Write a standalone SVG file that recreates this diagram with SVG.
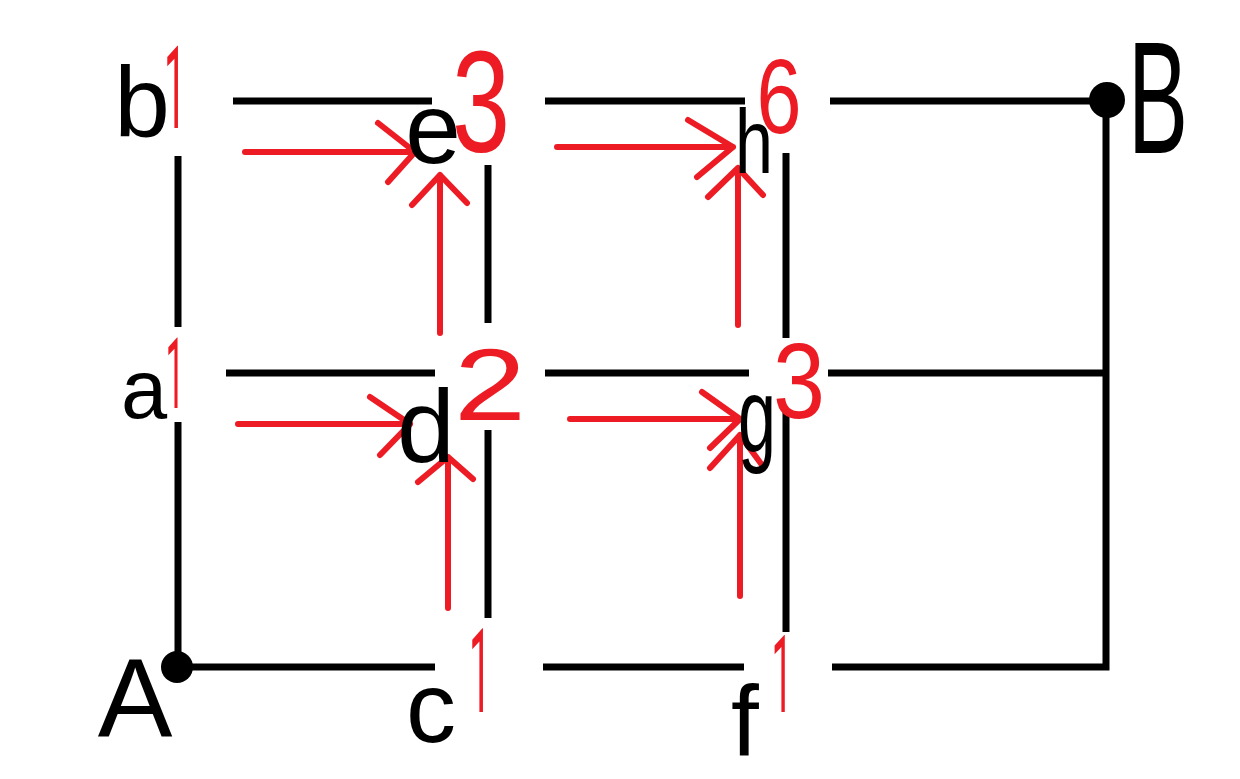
<svg xmlns="http://www.w3.org/2000/svg" width="1240" height="779" viewBox="0 0 1240 779">
  <style>
    .bk { stroke: #000000; stroke-width: 7; fill: none; stroke-linecap: butt; stroke-linejoin: miter; }
    .rd { stroke: #ED1C24; stroke-width: 6; fill: none; stroke-linecap: round; stroke-linejoin: round; }
    .dot { fill: #000000; }
    .lbl { font-family: "Liberation Sans", Arial, sans-serif; fill: #000000; text-anchor: middle; }
    .num { font-family: "Liberation Sans", Arial, sans-serif; fill: #ED1C24; text-anchor: middle; }
    .one { font-family: Roboto, "Open Sans", sans-serif; fill: #ED1C24; text-anchor: middle; }
  </style>
  <rect width="1240" height="779" fill="#ffffff"/>

  <g id="connectors">
    <g id="grid">
      <path class="bk" d="M233 101 H432 M545 101 H745 M830 101 H1106"/>
      <path class="bk" d="M226 373 H435 M545 373 H749 M828 373 H1106"/>
      <path class="bk" d="M177 667 H435 M543 667 H744"/>
      <path class="bk" d="M832 667 H1106 V101"/>
      <path class="bk" d="M178 156 V327 M178 422 V667"/>
      <path class="bk" d="M488 165 V323 M488 430 V618"/>
      <path class="bk" d="M786 153 V338 M786 410 V632"/>
    </g>
    <g id="arrows">
      <path class="rd" d="M245 152 H415 M378 123 L415 152 L388 182"/>
      <path class="rd" d="M440 333 V175 M412 205 L440 175 L467 203"/>
      <path class="rd" d="M557 147 H733 M688 120 L733 147 L697 177"/>
      <path class="rd" d="M738 325 V168 M708 197 L738 168 L763 195"/>
      <path class="rd" d="M238 424 H410 M370 397 L410 424 L380 455"/>
      <path class="rd" d="M448 608 V457 M418 482 L448 457 L473 479"/>
      <path class="rd" d="M570 419 H740 M702 392 L740 419 L710 448"/>
      <path class="rd" d="M740 596 V435 M710 468 L740 435 L762 465"/>
    </g>
  </g>

  <g id="node-A">
    <circle class="dot" cx="177" cy="667" r="16"/>
    <text class="lbl" x="135" y="736" font-size="112">A</text>
  </g>
  <g id="node-B">
    <circle class="dot" cx="1107" cy="100" r="18"/>
    <text class="lbl" x="1158" y="153" font-size="160" textLength="60" lengthAdjust="spacingAndGlyphs">B</text>
  </g>
  <g id="node-a">
    <text class="lbl" x="144" y="418" font-size="83">a</text>
    <text class="one" x="175" y="408" font-size="98" textLength="19" lengthAdjust="spacingAndGlyphs">1</text>
  </g>
  <g id="node-b">
    <text class="lbl" x="142" y="137" font-size="100">b</text>
    <text class="one" x="175" y="128" font-size="115" textLength="22" lengthAdjust="spacingAndGlyphs">1</text>
  </g>
  <g id="node-c">
    <text class="lbl" x="431" y="742" font-size="100">c</text>
    <text class="one" x="480" y="712" font-size="117" textLength="22" lengthAdjust="spacingAndGlyphs">1</text>
  </g>
  <g id="node-d">
    <text class="lbl" x="426" y="462" font-size="104">d</text>
    <text class="num" x="490" y="420" font-size="102" textLength="72" lengthAdjust="spacingAndGlyphs">2</text>
  </g>
  <g id="node-e">
    <text class="lbl" x="433" y="163" font-size="100">e</text>
    <text class="num" x="481" y="152" font-size="145" textLength="58" lengthAdjust="spacingAndGlyphs">3</text>
  </g>
  <g id="node-f">
    <text class="lbl" x="745" y="756" font-size="100">f</text>
    <text class="one" x="782" y="712" font-size="108" textLength="21" lengthAdjust="spacingAndGlyphs">1</text>
  </g>
  <g id="node-g">
    <text class="lbl" x="757" y="452" font-size="105" textLength="38" lengthAdjust="spacingAndGlyphs">g</text>
    <text class="num" x="799" y="418" font-size="108" textLength="52" lengthAdjust="spacingAndGlyphs">3</text>
  </g>
  <g id="node-h">
    <text class="lbl" x="754" y="173" font-size="90" textLength="38" lengthAdjust="spacingAndGlyphs">h</text>
    <text class="num" x="779" y="133" font-size="105" textLength="45" lengthAdjust="spacingAndGlyphs">6</text>
  </g>
</svg>
